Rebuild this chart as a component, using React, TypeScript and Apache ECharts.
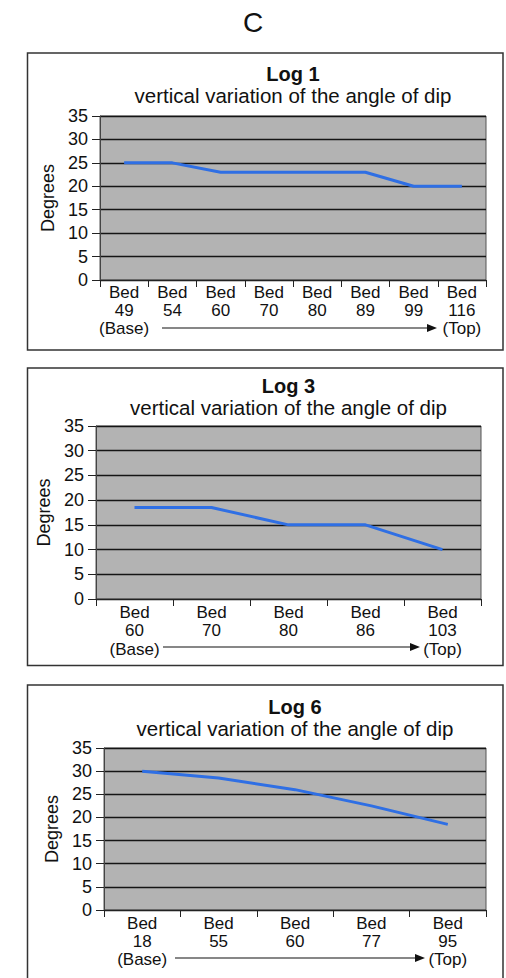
import React, { useEffect, useRef } from "react";
import * as echarts from "echarts";

const pageTitle = "C";
const subTitle = "vertical variation of the angle of dip";
const yAxisName = "Degrees";

const log1Title = "Log 1";
const log1Beds = ["49", "54", "60", "70", "80", "89", "99", "116"];
const log1Dip = [25, 25, 23, 23, 23, 23, 20, 20];

const log3Title = "Log 3";
const log3Beds = ["60", "70", "80", "86", "103"];
const log3Dip = [18.5, 18.5, 15, 15, 10];

const log6Title = "Log 6";
const log6Beds = ["18", "55", "60", "77", "95"];
const log6Dip = [30, 28.5, 26, 22.5, 18.5];

const FONT = "'Liberation Sans', Arial, sans-serif";
const TEXT = "#111";

const panels = [
  { title: log1Title, beds: log1Beds, dip: log1Dip, grid: { left: 100, top: 116, width: 386, height: 164 }, titleTop: 64, nameGap: 40, lh: 17.6, box: { y: 53, h: 297 }, arrow: { x1: 162, x2: 437, y: 328 } },
  { title: log3Title, beds: log3Beds, dip: log3Dip, grid: { left: 96, top: 426, width: 385, height: 173 }, titleTop: 376, nameGap: 42, lh: 18.5, box: { y: 368, h: 297.5 }, arrow: { x1: 163, x2: 420, y: 647 } },
  { title: log6Title, beds: log6Beds, dip: log6Dip, grid: { left: 104, top: 748, width: 382, height: 162 }, titleTop: 697, nameGap: 42, lh: 18, box: { y: 685, h: 300 }, arrow: { x1: 175, x2: 425, y: 958 } },
];

export default function App() {
  const ref = useRef<HTMLDivElement>(null);
  useEffect(() => {
    if (!ref.current) return;
    const chart = echarts.init(ref.current, null, { renderer: "svg" });

    const titles: any[] = [
      {
        text: pageTitle,
        left: 253,
        top: 8,
        textAlign: "center",
        padding: 0,
        textStyle: { fontFamily: FONT, fontSize: 28, fontWeight: "normal", color: TEXT },
      },
    ];
    const grids: any[] = [];
    const xAxes: any[] = [];
    const yAxes: any[] = [];
    const series: any[] = [];
    const graphics: any[] = [];

    panels.forEach((p, i) => {
      const cx = p.grid.left + p.grid.width / 2;
      titles.push({
        text: p.title,
        subtext: subTitle,
        left: cx,
        top: p.titleTop,
        textAlign: "center",
        padding: 0,
        itemGap: 1,
        textStyle: { fontFamily: FONT, fontSize: 20, lineHeight: 20, fontWeight: "bold", color: TEXT },
        subtextStyle: { fontFamily: FONT, fontSize: 20.5, lineHeight: 20, color: TEXT },
      });
      grids.push({
        ...p.grid,
        show: true,
        backgroundColor: "#b3b3b3",
        borderColor: "#555",
        borderWidth: 1,
        containLabel: false,
      });
      const last = p.beds.length - 1;
      xAxes.push({
        type: "category",
        gridIndex: i,
        data: p.beds,
        boundaryGap: true,
        axisLine: { show: true, lineStyle: { color: "#222", width: 1 } },
        axisTick: { show: true, length: 7, lineStyle: { color: "#222" } },
        splitLine: { show: false },
        axisLabel: {
          interval: 0,
          margin: 4,
          fontFamily: FONT,
          fontSize: 17,
          lineHeight: p.lh,
          color: TEXT,
          formatter: (v: string, idx: number) =>
            idx === 0 ? `Bed\n${v}\n(Base)` : idx === last ? `Bed\n${v}\n(Top)` : `Bed\n${v}`,
        },
      });
      yAxes.push({
        type: "value",
        gridIndex: i,
        min: 0,
        max: 35,
        interval: 5,
        name: yAxisName,
        nameLocation: "middle",
        nameGap: p.nameGap,
        nameTextStyle: { fontFamily: FONT, fontSize: 18, color: TEXT },
        axisLine: { show: true, lineStyle: { color: "#444", width: 1 } },
        axisTick: { show: true, length: 8, lineStyle: { color: "#222" } },
        splitLine: { show: true, lineStyle: { color: "#151515", width: 1.3 } },
        axisLabel: { margin: 12, fontFamily: FONT, fontSize: 18, color: TEXT },
      });
      series.push({
        type: "line",
        xAxisIndex: i,
        yAxisIndex: i,
        data: p.dip,
        symbol: "none",
        lineStyle: { color: "#2f6fe4", width: 3 },
        z: 5,
      });
      graphics.push({
        type: "rect",
        shape: { x: 27.5, y: p.box.y, width: 475.5, height: p.box.h },
        style: { fill: "none", stroke: "#333", lineWidth: 1.5 },
        silent: true,
      });
      graphics.push({
        type: "line",
        shape: { x1: p.arrow.x1, y1: p.arrow.y, x2: p.arrow.x2 - 8, y2: p.arrow.y },
        style: { stroke: "#111", lineWidth: 1.2 },
        silent: true,
      });
      graphics.push({
        type: "polygon",
        shape: {
          points: [
            [p.arrow.x2 - 10, p.arrow.y - 4],
            [p.arrow.x2, p.arrow.y],
            [p.arrow.x2 - 10, p.arrow.y + 4],
          ],
        },
        style: { fill: "#111" },
        silent: true,
      });
    });

    chart.setOption({
      animation: false,
      backgroundColor: "#ffffff",
      title: titles,
      grid: grids,
      xAxis: xAxes,
      yAxis: yAxes,
      series,
      graphic: graphics,
    });
    return () => chart.dispose();
  }, []);

  return (
    <div
      ref={ref}
      style={{ position: "absolute", left: 0, top: 0, width: 506, height: 978 }}
    />
  );
}
